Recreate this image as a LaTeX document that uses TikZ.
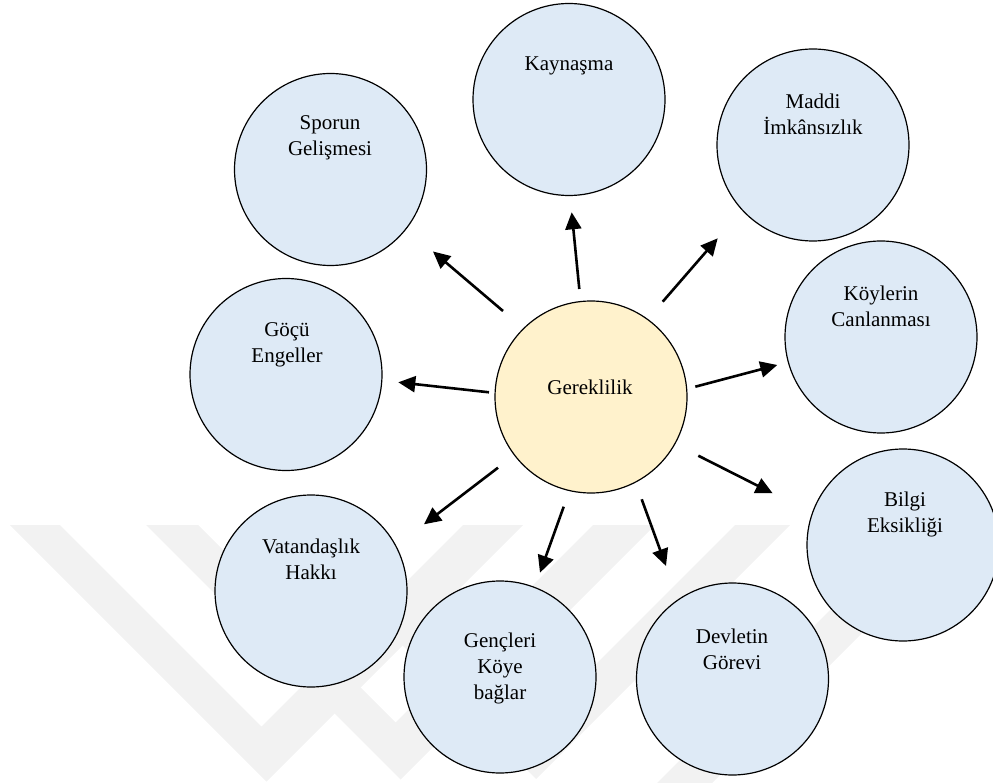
\documentclass[tikz,border=0pt]{standalone}
\usepackage{fontspec}
\setmainfont{Liberation Serif}
\usetikzlibrary{arrows.meta}
\definecolor{bubble}{HTML}{DEEAF6}
\definecolor{core}{HTML}{FFF2CC}
\definecolor{wm}{HTML}{F2F2F2}
\begin{document}
\begin{tikzpicture}[x=1pt,y=-1pt,
  bub/.style={circle,draw=black,line width=1.2pt,fill=bubble,minimum size=192pt,inner sep=0pt},
  lbl/.style={align=center,font=\fontsize{21}{26}\selectfont,inner sep=0pt},
  arr/.style={line width=2.6pt,-{Triangle[length=17pt,width=16pt]}},
  wmark/.style={fill=wm,draw=none}]
\useasboundingbox (0,0) rectangle (993,783);
% faint watermark
\fill[wmark] (10,525) -- (60,525) -- (261.5,726.5) -- (463,525) -- (523,525) -- (266.5,781.5) -- cycle;
\fill[wmark] (146,525) -- (198,525) -- (395.5,722.5) -- (593,525) -- (655,525) -- (400.5,779.5) -- cycle;
\fill[wmark] (282,525) -- (334,525) -- (534.5,725.5) -- (735,525) -- (790,525) -- (536,779) -- cycle;
\fill[wmark] (657,783) -- (712,783) -- (970,525) -- (915,525) -- cycle;
% circles
\node[bub] (kay) at (569,99.5) {};
\node[bub] (spo) at (330.5,169.5) {};
\node[bub] (mad) at (813,145) {};
\node[bub] (koy) at (881,337) {};
\node[bub] (goc) at (286,374.5) {};
\node[bub,fill=core] (ger) at (591,397) {};
\node[bub] (vat) at (311,591) {};
\node[bub] (gen) at (500,677) {};
\node[bub] (dev) at (732.5,679) {};
\node[bub] (bil) at (903,545) {};
% labels
\node[lbl] (tkay) at (569,66) {Kaynaşma};
\node[lbl] (tspo) at (330,138) {Sporun\\Gelişmesi};
\node[lbl] (tmad) at (813,114) {Maddi\\İmkânsızlık};
\node[lbl] (tkoy) at (881,306.5) {Köylerin\\Canlanması};
\node[lbl] (tgoc) at (287,344.5) {Göçü\\Engeller};
\node[lbl] (tger) at (590,387) {Gereklilik};
\node[lbl] (tvat) at (311,559) {Vatandaşlık\\Hakkı};
\node[lbl] (tgen) at (500,668) {Gençleri\\Köye\\bağlar};
\node[lbl] (tdev) at (732,649.5) {Devletin\\Görevi};
\node[lbl] (tbil) at (905,514) {Bilgi\\Eksikliği};
% arrow ends
\coordinate (s1) at (503,311);   \coordinate (e1) at (433,251.5);
\coordinate (s2) at (579.3,289); \coordinate (e2) at (571.7,212.3);
\coordinate (s3) at (662.7,301.7); \coordinate (e3) at (717.7,238.3);
\coordinate (s4) at (695.3,386.7); \coordinate (e4) at (777.3,365);
\coordinate (s5) at (698.3,455.7); \coordinate (e5) at (772.7,493.3);
\coordinate (s6) at (641.7,499.3); \coordinate (e6) at (666,566);
\coordinate (s7) at (563.7,506.7); \coordinate (e7) at (540,572.7);
\coordinate (s8) at (498,467.7);   \coordinate (e8) at (424,524.3);
\coordinate (s9) at (489,392.3);   \coordinate (e9) at (398.3,382.3);
\foreach \i in {1,...,9} \draw[arr] (s\i) -- (e\i);
\end{tikzpicture}
\end{document}
